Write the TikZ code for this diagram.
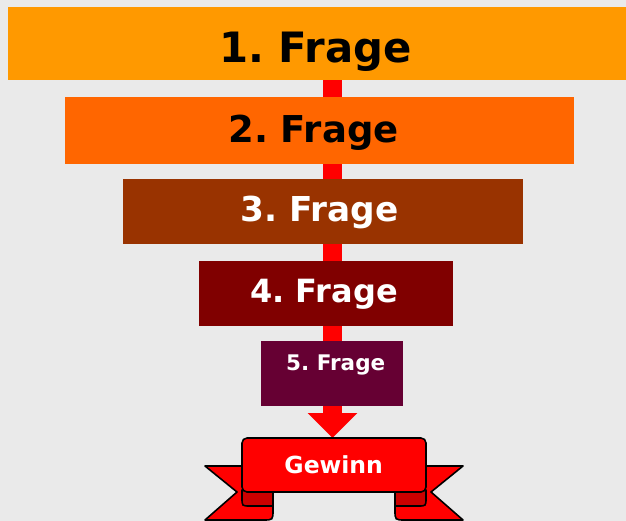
\documentclass[tikz,border=0pt]{standalone}
\usepackage{fontspec}
\setmainfont{DejaVu Sans}
\frenchspacing
\usetikzlibrary{arrows.meta}
\definecolor{bgc}{HTML}{EAEAEA}
\definecolor{c1}{HTML}{FF9900}
\definecolor{c2}{HTML}{FF6600}
\definecolor{c3}{HTML}{993300}
\definecolor{c4}{HTML}{800000}
\definecolor{c5}{HTML}{660033}
\definecolor{rib}{HTML}{FF0000}
\definecolor{fold}{HTML}{CC0000}
\pgfdeclarelayer{bglayer}
\pgfdeclarelayer{arrowlayer}
\pgfsetlayers{bglayer,arrowlayer,main}
\tikzset{
  qbox/.style={rectangle, inner sep=0pt, outer sep=0pt, draw=none},
  qtext/.style={inner sep=0pt, anchor=base, font=\bfseries},
  ribpart/.style={fill=rib, draw=black, line width=1.6pt, line join=round},
  foldpart/.style={fill=fold, draw=black, line width=1.6pt, line join=round},
}
\begin{document}
\begin{tikzpicture}[x=1pt, y=-1pt]
\begin{pgfonlayer}{bglayer}
\fill[bgc] (0,0) rectangle (626,521);
\end{pgfonlayer}
\useasboundingbox (0,0) rectangle (626,521);
% boxes
\node[qbox, fill=c1, minimum width=618pt, minimum height=73pt] (b1) at (317,43.5) {};
\node[qbox, fill=c2, minimum width=509pt, minimum height=67pt] (b2) at (319.5,130.5) {};
\node[qbox, fill=c3, minimum width=400pt, minimum height=65pt] (b3) at (323,211.5) {};
\node[qbox, fill=c4, minimum width=254pt, minimum height=65pt] (b4) at (326,293.5) {};
\node[qbox, fill=c5, minimum width=142pt, minimum height=65pt] (b5) at (332,373.5) {};
% texts
\node[qtext, text=black] (t1) at (315.5,63) {\fontsize{41.8}{48}\selectfont 1. Frage};
\node[qtext, text=black] (t2) at (313.5,143) {\fontsize{37}{42}\selectfont 2. Frage};
\node[qtext, text=white] (t3) at (319.5,222) {\fontsize{34.3}{40}\selectfont 3. Frage};
\node[qtext, text=white] (t4) at (324,302) {\fontsize{32}{38}\selectfont 4. Frage};
\node[qtext, text=white] (t5) at (335.7,370) {\fontsize{21.5}{25}\selectfont 5. Frage};
% ribbon tails
\path[ribpart] (205,466) -- (237,492) -- (205,520) -- (263,520) .. controls (273,520) .. (273,510) -- (273,466) -- cycle;
\path[ribpart] (463,466) -- (431,492) -- (463,520) -- (405,520) .. controls (395,520) .. (395,510) -- (395,466) -- cycle;
% folds
\path[foldpart] (242,490) -- (242,498) .. controls (242,506) .. (250,506) -- (273,506) -- (273,492) -- cycle;
\path[foldpart] (426,490) -- (426,498) .. controls (426,506) .. (418,506) -- (395,506) -- (395,492) -- cycle;
% banner
\node[ribpart, rectangle, rounded corners=5pt, minimum width=184pt, minimum height=54pt, inner sep=0pt] (banner) at (334,465) {};
\node[qtext, text=white] (tg) at (333.7,473.3) {\fontsize{23.5}{28}\selectfont Gewinn};
% arrow
\coordinate (atip) at (332.5,438);
\begin{pgfonlayer}{arrowlayer}
\draw[rib, line width=19pt, -{Triangle[width=48pt, length=25pt]}] (b1.south -| atip) -- (atip);
\end{pgfonlayer}
\end{tikzpicture}
\end{document}
